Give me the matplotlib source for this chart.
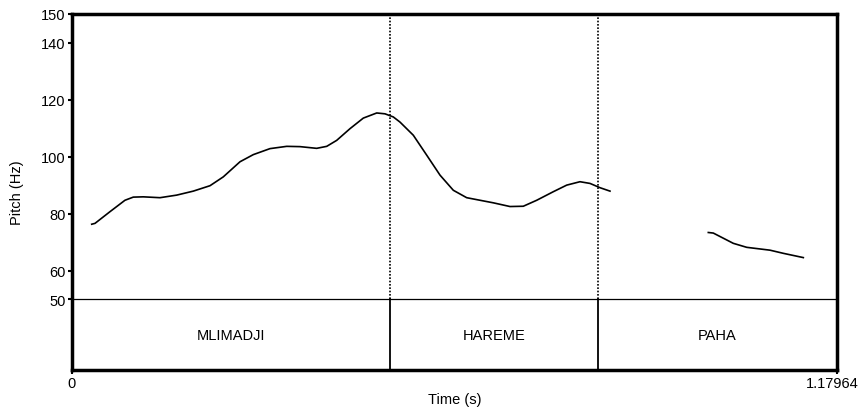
import matplotlib
matplotlib.use("Agg")
import matplotlib.pyplot as plt
import matplotlib.transforms as mtransforms

# Pitch contour (time in s, F0 in Hz), two voiced stretches
t1 = [0.0304, 0.0355, 0.0586, 0.0817, 0.0945, 0.1099, 0.1357, 0.1614, 0.1870,
      0.2128, 0.2333, 0.2591, 0.2796, 0.3053, 0.3311, 0.3516, 0.3773, 0.3928,
      0.4082, 0.4287, 0.4492, 0.4699, 0.4827, 0.4955, 0.5058, 0.5263, 0.5470,
      0.5675, 0.5880, 0.6086, 0.6291, 0.6497, 0.6754, 0.6959, 0.7166, 0.7422,
      0.7628, 0.7833, 0.7988, 0.8142, 0.8296]
f1 = [76.3, 76.6, 80.7, 84.7, 85.8, 85.9, 85.6, 86.5, 87.9,
      89.8, 92.9, 98.2, 100.7, 102.8, 103.6, 103.5, 102.9, 103.6,
      105.7, 109.8, 113.5, 115.3, 115.0, 113.9, 112.1, 107.5, 100.5,
      93.5, 88.2, 85.6, 84.7, 83.8, 82.5, 82.6, 84.7, 87.7,
      90.0, 91.2, 90.6, 89.1, 87.9]
t2 = [0.9812, 0.9889, 1.0197, 1.0404, 1.0763, 1.0968, 1.1277]
f2 = [73.4, 73.2, 69.6, 68.2, 67.2, 66.1, 64.6]

# Word tier
t_start, t_end = 0.0, 1.17964
boundaries = [0.4904, 0.8111]
words = ["MLIMADJI", "HAREME", "PAHA"]

f_min, f_max = 50, 150
tier_bottom = 25.2
yticks = [50, 60, 80, 100, 120, 140, 150]

plt.rcParams["font.family"] = ["Liberation Sans", "DejaVu Sans"]
fs = 10.5

fig = plt.figure(figsize=(8.59, 4.14), dpi=100)
ax = fig.add_axes([0.0838, 0.1039, 0.8906, 0.8599])

ax.plot(t1, f1, color="black", lw=1.2, solid_joinstyle="round")
ax.plot(t2, f2, color="black", lw=1.2, solid_joinstyle="round")

ax.axhline(f_min, color="black", lw=0.9)
edges = [t_start] + boundaries + [t_end]
for b in boundaries:
    ax.plot([b, b], [tier_bottom, f_min], color="black", lw=1.3)
    ax.plot([b, b], [f_min, f_max], color="black", lw=1.2, linestyle=(0, (1, 1)))
for w, a, b in zip(words, edges[:-1], edges[1:]):
    ax.text((a + b) / 2, (tier_bottom + f_min) / 2, w, ha="center", va="center",
            fontsize=fs)

ax.set_xlim(t_start, t_end)
ax.set_ylim(tier_bottom, f_max)
ax.set_yticks(yticks)
ax.set_yticklabels([str(v) for v in yticks])
ax.set_xticks([t_start, t_end])
ax.set_xticklabels(["0", "1.17964"])
ax.tick_params(axis="both", direction="out", length=3, width=1.5, labelsize=fs,
               pad=1.5)
for s in ax.spines.values():
    s.set_linewidth(2.5)

# keep the end-time label inside the figure
last = ax.get_xticklabels()[-1]
last.set_horizontalalignment("right")
last.set_transform(last.get_transform() +
                   mtransforms.ScaledTranslation(0.22, 0, fig.dpi_scale_trans))

ax.set_ylabel("Pitch (Hz)", fontsize=fs, labelpad=12)
ax.set_xlabel("Time (s)", fontsize=fs, labelpad=1)

fig.savefig("out.png", dpi=100)
